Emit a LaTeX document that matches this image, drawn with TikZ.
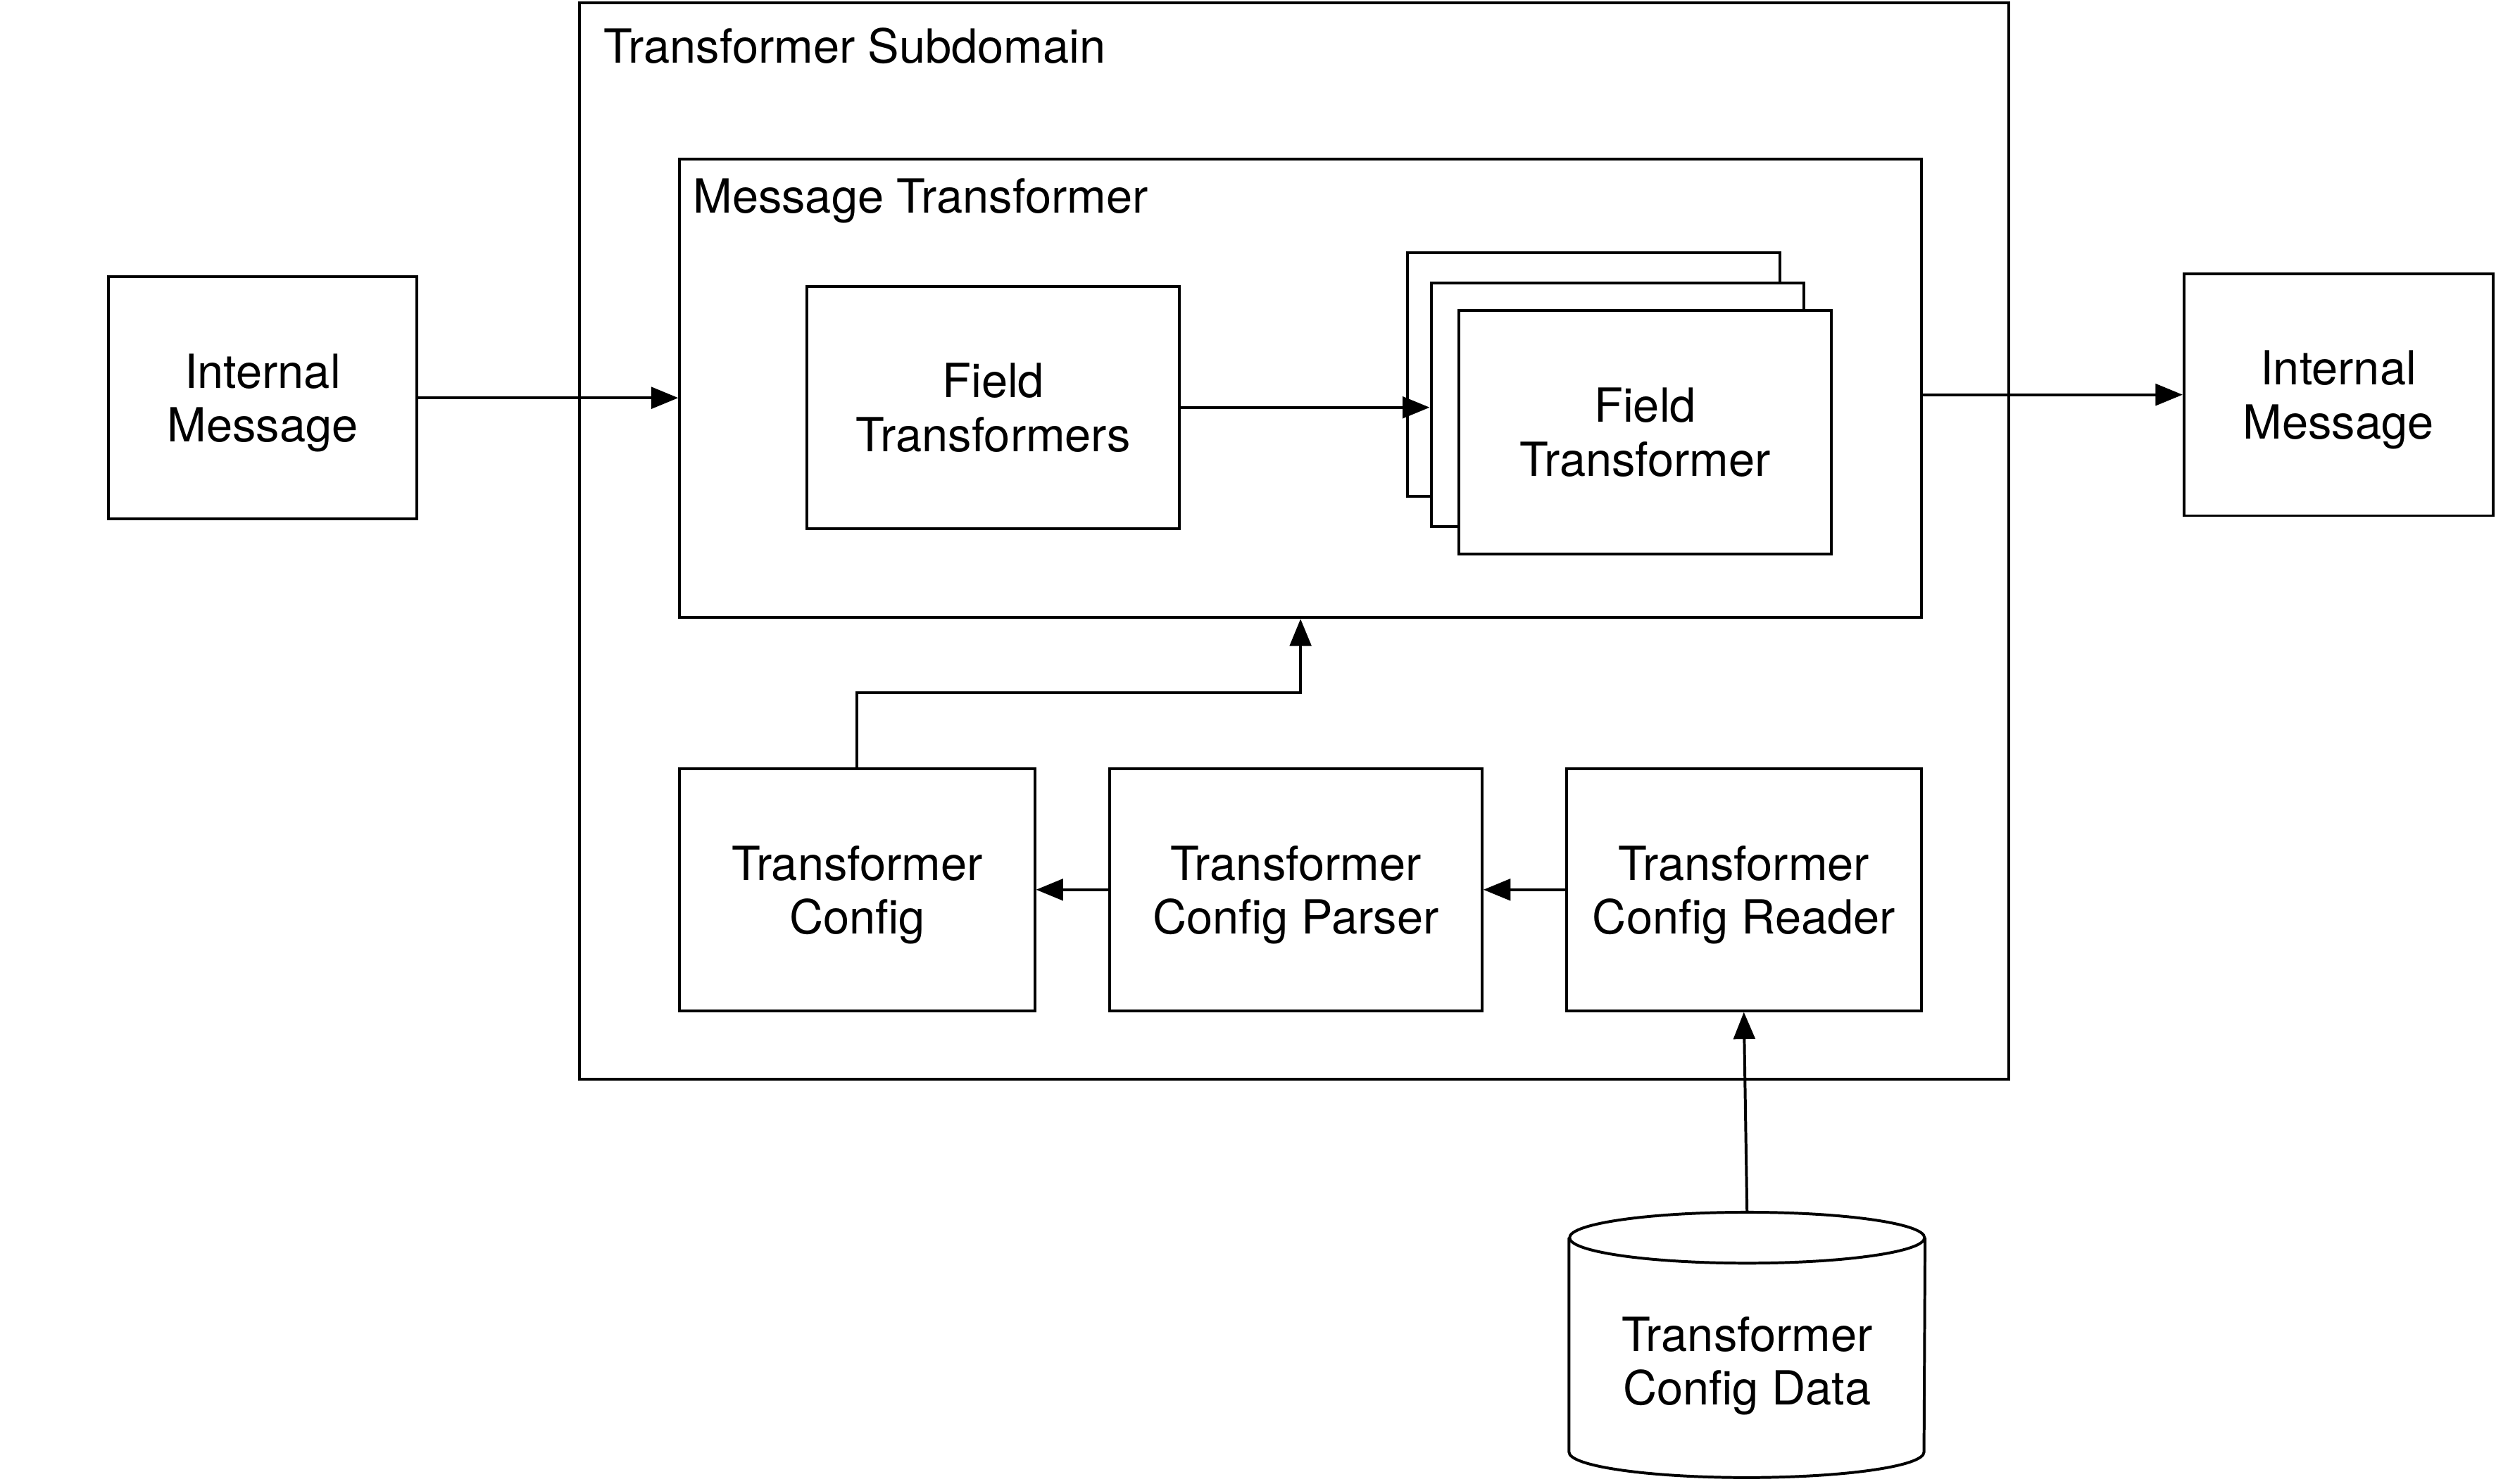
\documentclass[tikz,border=0pt]{standalone}
\usepackage{fontspec}
\setmainfont{TeX Gyre Heros}
\usetikzlibrary{arrows.meta,calc}

\tikzset{
  box/.style={draw, line width=1pt, align=center, inner sep=0pt, text depth=0pt, fill=white},
  flow/.style={-{Triangle[length=3.4mm,width=2.7mm]}, line width=1pt},
  lbl/.style={inner sep=0pt, anchor=base west}
}

\begin{document}
\begin{tikzpicture}[x=0.2mm, y=0.2mm, font=\fontsize{16.8}{19.2}\selectfont]
\useasboundingbox (0,0) rectangle (1568,932);
% containers
\node[box, minimum width=179.6mm, minimum height=135.2mm] (outer) at (813,592) {};
\node[lbl] (subT) at ([shift={(16,-38.5)}]outer.north west) {Transformer Subdomain};
\node[box, minimum width=156mm, minimum height=57.6mm] (msgT) at (817,688) {};
\node[lbl] (msgTl) at ([shift={(9,-34.5)}]msgT.north west) {Message Transformer};
% inside the message transformer
\node[box, minimum width=46.8mm, minimum height=30.4mm] (fts) at (624,676) {Field\\Transformers};
\node[box, minimum width=46.8mm, minimum height=30.6mm] (back) at (1001,696.5) {};
\node[box, minimum width=46.8mm, minimum height=30.6mm] (mid) at (1016,677.5) {};
\node[box, minimum width=46.8mm, minimum height=30.6mm] (front) at (1033.5,660.5) {Field\\Transformer};
% messages in and out
\node[box, minimum width=38.8mm, minimum height=30.4mm] (imL) at (165,682) {Internal\\Message};
\node[box, minimum width=38.8mm, minimum height=30.4mm] (imR) at (1469,684) {Internal\\Message};
% config chain
\node[box, minimum width=44.6mm, minimum height=30.4mm] (cfg) at (538.5,373) {Transformer\\Config};
\node[box, minimum width=46.8mm, minimum height=30.4mm] (parser) at (814,373) {Transformer\\Config Parser};
\node[box, minimum width=44.6mm, minimum height=30.4mm] (reader) at (1095.5,373) {Transformer\\Config Reader};
% data store
\node[minimum width=44.6mm, minimum height=33.2mm, inner sep=0pt] (db) at (1097.5,87) {};
\draw[line width=1pt] ($(db.north west)+(0,-16)$) -- ($(db.south west)+(0,16)$)
    arc[start angle=180, end angle=360, x radius=111.5, y radius=16] -- ($(db.north east)+(0,-16)$);
\draw[line width=1pt] ($(db.north)+(0,-16)$) ellipse[x radius=111.5, y radius=16];
\node[align=center, inner sep=0pt, text depth=0pt] (dbtxt) at ($(db.center)+(0,-10)$) {Transformer\\Config Data};

\draw[flow] (imL.east) -- (imL.east -| msgT.west);
\draw[flow] (fts.east) -- (fts.east -| mid.west);
\draw[flow] (msgT.east |- imR.west) -- (imR.west);
\draw[flow] (cfg.north) -- ++(0,47) -| (msgT.south);
\draw[flow] (parser.west) -- (cfg.east);
\draw[flow] (reader.west) -- (parser.east);
\draw[flow] (db.north) -- (reader.south);
\end{tikzpicture}
\end{document}
